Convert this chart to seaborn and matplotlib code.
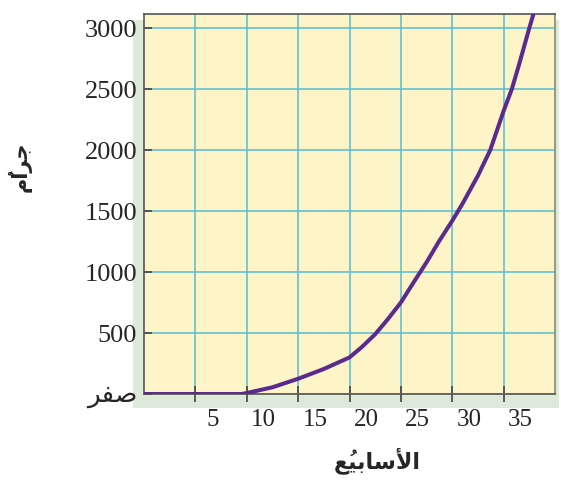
import numpy as np
import pandas as pd
import matplotlib
matplotlib.use("Agg")
import matplotlib.pyplot as plt
import seaborn as sns
from matplotlib.patches import Rectangle
from matplotlib.transforms import ScaledTranslation

# ---- data ----
weeks = [0, 9.5, 10, 12.5, 15, 17.5, 20, 21.2, 22.5, 23.7, 25, 26.2, 27.5, 28.7, 30, 31, 32.5, 33.7, 35, 35.8, 36.5, 37.5, 38.2]
grams = [0, 0, 8, 55, 125, 205, 300, 385, 490, 610, 750, 910, 1080, 1250, 1420, 1560, 1790, 2000, 2320, 2500, 2700, 3000, 3200]

x_ticks = [5, 10, 15, 20, 25, 30, 35]
x_tick_labels = ["5", "10", "15", "20", "25", "30", "35"]
y_ticks = [0, 500, 1000, 1500, 2000, 2500, 3000]
# "صفر" shaped manually (visual order, presentation forms)
y_tick_labels = ["\uFEAE\uFED4\uFEBB", "500", "1000", "1500", "2000", "2500", "3000"]
x_label = "\uFECA\u064F\uFEF4\uFE91\uFE8E\uFEB3\uFEF7\uFE8D"   # الأسابيعُ
y_label = "\uFEE1\u064C\uFE8D\uFEAE\uFE9F"                     # جرامٌ

df = pd.DataFrame({"week": weeks, "grams": grams})

sns.set_theme(style="white")
plt.rcParams["font.family"] = ["Liberation Serif", "DejaVu Sans"]

fig = plt.figure(figsize=(5.61, 4.96), dpi=100)
ax = fig.add_axes([144/561, 1-394/496, (555-144)/561, (394-14)/496])

# pale green shadow behind plot
fig.add_artist(Rectangle((133/561, 1-408/496), (559-133)/561, (408-20)/496,
                         transform=fig.transFigure, facecolor="#dde9d9",
                         edgecolor="none", zorder=-1))

ax.set_facecolor("#fdf4c7")
sns.lineplot(data=df, x="week", y="grams", ax=ax, color="#5a2a8e",
             linewidth=2.9, sort=False, zorder=3)

ax.set_xlim(0, 40)
ax.set_ylim(0, 3115)
ax.set_xticks(x_ticks)
ax.set_xticklabels(x_tick_labels, fontsize=18, family=["Liberation Serif"])
ax.set_yticks(y_ticks)
ax.set_yticklabels(y_tick_labels, fontsize=19, family=["Liberation Serif", "DejaVu Sans"])

ax.grid(True, color="#56bcd4", linewidth=1.1)
ax.set_axisbelow(True)

for s in ax.spines.values():
    s.set_color("#555555")
    s.set_linewidth(1.2)
ax.spines["right"].set_color("#8a8a70")

ax.tick_params(axis="y", direction="in", length=6, width=1.2, color="#444444", pad=5, left=True)
ax.tick_params(axis="x", direction="inout", length=11, width=1.2, color="#444444", pad=5, bottom=True)

for lab in ax.get_xticklabels():
    lab.set_transform(lab.get_transform() + ScaledTranslation(17/100, 0, fig.dpi_scale_trans))

ax.set_xlabel(x_label, fontsize=16, fontweight="bold", family=["DejaVu Sans"])
ax.xaxis.set_label_coords((377-144)/411, (394-447)/380)
ax.set_ylabel(y_label, fontsize=15, fontweight="bold", family=["DejaVu Sans"], rotation=90, va="center")
ax.yaxis.set_label_coords((20-144)/411, (394-167)/380)

fig.savefig("out.png", dpi=100)
